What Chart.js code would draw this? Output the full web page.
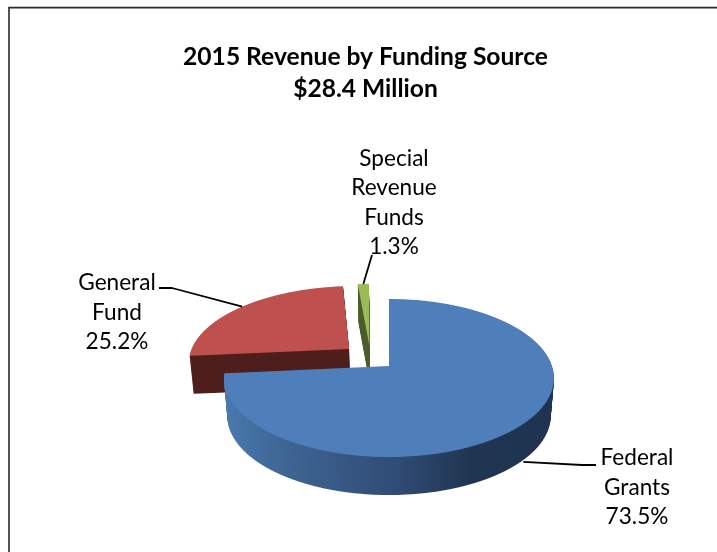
<!DOCTYPE html>
<html><head><meta charset="utf-8">
<script src="https://cdn.jsdelivr.net/npm/chart.js@4"></script>
<style>html,body{margin:0;padding:0;background:#fff}canvas{display:block}</style>
</head><body><canvas id="c" width="717" height="552"></canvas>
<script>
const titleLines = ['2015 Revenue by Funding Source', '$28.4 Million'];
const categories = ['Federal Grants', 'General Fund', 'Special Revenue Funds'];
const values = [73.5, 25.2, 1.3];
const labelLines = [['Federal', 'Grants'], ['General', 'Fund'], ['Special', 'Revenue', 'Funds']];
const topColors = ['#4f7fbb', '#be504d', '#9bbb59'];
const sideColors = [null, '#4e1f1d', '#4d5e2c'];

// projection of the pie plane to the page
const P = 0.152, A = 77.2, K = 163, CX = 389, CY = 366, DEPTH = 38;
const explode = [[0, 0], [-0.253, -0.228], [-0.125, -0.27]];
const tilt = [0, 0, -0.022];
const labelCentres = [[637, 458], [117, 283], [394, 158.5]];
const elbows = [[[582, 465], [596, 465]], [[172, 288], [159, 288]], [[372, 255]]];
const LINE = 29.4;

function project(u, v, d) {
  const w = 1 - P * v;
  return [CX + K * u / w, CY + A * v / w + (d || 0)];
}
function drawSlice(ctx, el, i, fill, d) {
  const R = el.outerRadius, saved = el.options, sh = explode[i];
  el.options = Object.assign({}, saved, {backgroundColor: fill, borderWidth: 0});
  const narrow = 1 - 0.02 * d / DEPTH;
  for (let y = 270; y < 505; y++) {
    const t = y + 0.5 - d - CY, v = t / (A + P * t);
    if (v < sh[1] - 1.03 || v > sh[1] + 1.03) continue;
    const w = 1 - P * v, sx = K * narrow / (R * w), sy = A / (w * w * R);
    ctx.save();
    ctx.beginPath(); ctx.rect(0, y, 717, 1); ctx.clip();
    ctx.transform(sx, 0, 0, sy, CX - sx * el.x, y + 0.5 - sy * (el.y + R * v));
    ctx.translate(el.x + sh[0] * R, el.y + sh[1] * R);
    ctx.rotate(tilt[i]);
    ctx.translate(-el.x, -el.y);
    el.draw(ctx);
    ctx.restore();
  }
  el.options = saved;
}
const pie3d = {
  id: 'pie3d',
  beforeDraw(chart) {
    const c = chart.ctx;
    c.save(); c.strokeStyle = '#2b2b2b'; c.lineWidth = 1.6;
    c.beginPath(); c.moveTo(9, 552); c.lineTo(9, 7.6); c.lineTo(717, 7.6); c.stroke();
    c.restore();
  },
  beforeDatasetDraw(chart, args) {
    const ctx = chart.ctx, els = args.meta.data;
    for (const i of [2, 1, 0]) {
      const el = els[i], R = el.outerRadius;
      let side = sideColors[i];
      if (!side) {
        const px = x => el.x + (x - CX) * R / K;
        side = ctx.createLinearGradient(px(230), 0, px(555), 0);
        side.addColorStop(0, '#4a7aae');
        side.addColorStop(0.215, '#3e6594');
        side.addColorStop(0.52, '#2f4b73');
        side.addColorStop(0.71, '#203550');
        side.addColorStop(1, '#1f3350');
      }
      for (let d = DEPTH; d >= 1; d--) drawSlice(ctx, el, i, side, d);
      drawSlice(ctx, el, i, topColors[i], 0);
    }
    return false;
  },
  afterDraw(chart) {
    const c = chart.ctx, els = chart.getDatasetMeta(0).data;
    c.save();
    c.strokeStyle = '#000'; c.lineWidth = 1.8; c.lineJoin = 'round';
    els.forEach((el, i) => {
      const mid = (el.startAngle + el.endAngle) / 2 + tilt[i];
      const a = project(explode[i][0] + Math.cos(mid), explode[i][1] + Math.sin(mid), i === 0 ? DEPTH : 0);
      c.beginPath(); c.moveTo(a[0], a[1]);
      elbows[i].forEach(p => c.lineTo(p[0], p[1]));
      c.stroke();
    });
    c.fillStyle = '#000'; c.font = '22.6px Lato'; c.textAlign = 'center'; c.textBaseline = 'middle';
    categories.forEach((name, i) => {
      const lines = labelLines[i].concat([values[i].toFixed(1) + '%']);
      lines.forEach((s, j) => c.fillText(s, labelCentres[i][0], labelCentres[i][1] + j * LINE));
    });
    c.restore();
  }
};
new Chart(document.getElementById('c'), {
  type: 'pie',
  data: {labels: categories, datasets: [{data: values, backgroundColor: topColors, borderWidth: 0}]},
  options: {
    responsive: false, animation: false,
    layout: {padding: {left: 14, top: 41, right: 0, bottom: 10}},
    plugins: {
      legend: {display: false}, tooltip: {enabled: false},
      title: {display: true, text: titleLines, color: '#000',
        font: {family: 'Lato', size: 24.6, weight: 'bold', lineHeight: 1.3}, padding: 0}
    }
  },
  plugins: [pie3d]
});
</script></body></html>
